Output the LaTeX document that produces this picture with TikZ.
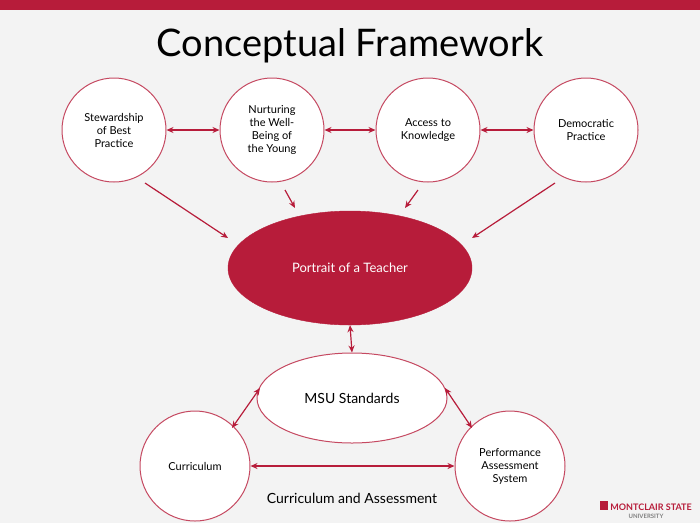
\documentclass[tikz,border=0pt]{standalone}
\usepackage{fontspec}
\setmainfont{Lato}
\usetikzlibrary{arrows.meta,shapes.geometric}
\definecolor{msured}{HTML}{B71C3A}
\definecolor{bg}{HTML}{F3F3F3}
\tikzset{
  circ/.style={circle,draw=msured!80,line width=1pt,fill=white,minimum size=104pt,inner sep=0pt,align=center,font=\fontsize{11}{13}\selectfont},
  conn/.style={draw=msured,line width=1.2pt,-{Stealth[length=7pt,width=6pt]}},
  dconn/.style={draw=msured,line width=1.2pt,{Stealth[length=7pt,width=6pt]}-{Stealth[length=7pt,width=6pt]}}
}
\begin{document}
\begin{tikzpicture}[x=1pt,y=-1pt]
\fill[bg] (0,0) rectangle (700,523);
\fill[msured] (0,0) rectangle (700,10);
\useasboundingbox (0,0) rectangle (700,523);
\node[font=\fontsize{38}{40}\selectfont] (title) at (350,46) {Conceptual Framework};
\node[circ] (c1) at (114,130) {Stewardship\\of Best\\Practice};
\node[circ] (c2) at (272,130) {Nurturing\\the Well-\\Being of\\the Young};
\node[circ] (c3) at (428,130) {Access to\\Knowledge};
\node[circ] (c4) at (586,130) {Democratic\\Practice};
\node[ellipse,fill=msured,draw=msured,minimum width=244pt,minimum height=114pt,text=white,font=\fontsize{13}{15}\selectfont] (p) at (350,268) {Portrait of a Teacher};
\node[ellipse,draw=msured!80,line width=1pt,fill=white,minimum width=190pt,minimum height=90pt,font=\fontsize{14}{16}\selectfont] (m) at (352,398) {MSU Standards};
\node[circ,minimum size=110pt] (cu) at (195,466) {Curriculum};
\node[circ,minimum size=110pt] (pa) at (510,466) {Performance\\Assessment\\System};
\node[font=\fontsize{14}{16}\selectfont] (ca) at (352,498) {Curriculum and Assessment};
\draw[dconn] (c1) -- (c2);
\draw[dconn] (c2) -- (c3);
\draw[dconn] (c3) -- (c4);
\draw[conn] ([shift={(31,53)}]c1.center) -- ([shift={(-122,-30)}]p.center);
\draw[conn] ([shift={(13,60)}]c2.center) -- ([shift={(-55,-60)}]p.center);
\draw[conn] ([shift={(-10,60)}]c3.center) -- ([shift={(55,-60)}]p.center);
\draw[conn] ([shift={(-31,53)}]c4.center) -- ([shift={(122,-30)}]p.center);
\draw[dconn] (p.south) -- (m.north);
\draw[dconn] ([shift={(-92,-10)}]m.center) -- ([shift={(37,-38)}]cu.center);
\draw[dconn] ([shift={(93,-10)}]m.center) -- ([shift={(-38,-38)}]pa.center);
\draw[dconn] (cu.east) -- (pa.west);
\node[text=msured,font=\bfseries\fontsize{9}{9}\selectfont,align=center] (logo) at (646,510) {\textcolor{msured}{\rule{8pt}{9pt}} MONTCLAIR STATE\\[-1pt]{\fontsize{6}{6}\selectfont\color{gray}UNIVERSITY}};
\end{tikzpicture}
\end{document}
